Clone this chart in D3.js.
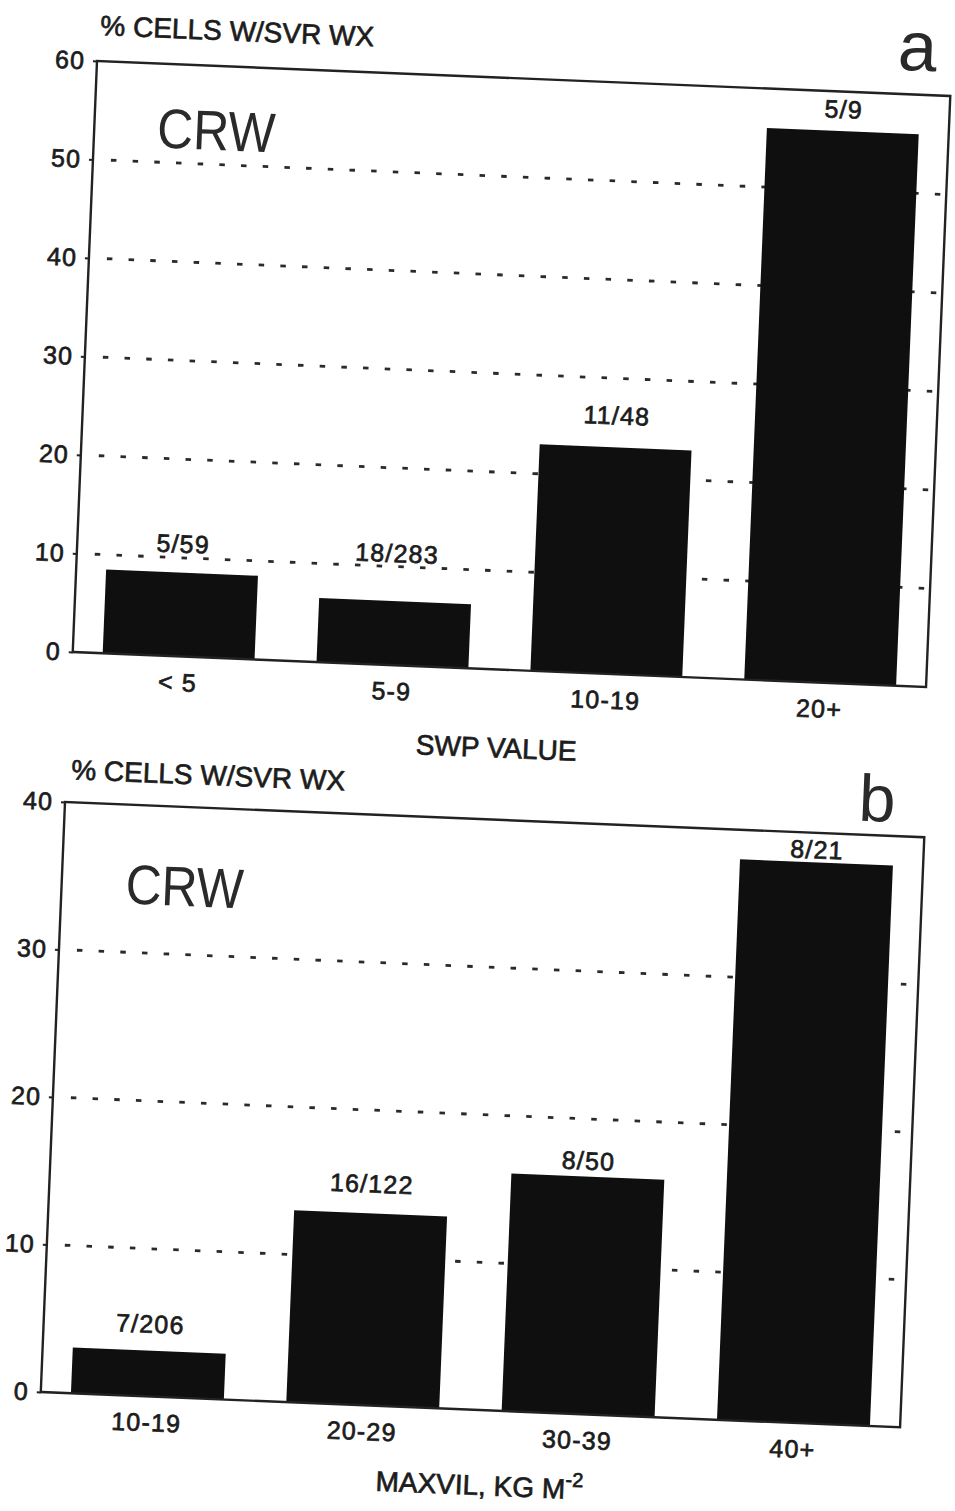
<!DOCTYPE html>
<html>
<head>
<meta charset="utf-8">
<script src="https://cdn.jsdelivr.net/npm/d3@7"></script>
<style>
  body { margin: 0; background: #fff; }
  svg text { font-family: "Liberation Sans", Arial, Helvetica, sans-serif; fill: #1c1c1c; }
  svg text.heavy { stroke: #1c1c1c; stroke-width: 0.7px; }
</style>
</head>
<body>
<div id="chart"></div>
<script>

// panel a : SWP value
var swpCats   = ["< 5", "5-9", "10-19", "20+"];
var swpPct    = [8.5, 6.5, 23.0, 56.0];
var swpCounts = ["5/59", "18/283", "11/48", "5/9"];
var swpTicks  = [0, 10, 20, 30, 40, 50, 60];

// panel b : MAXVIL
var vilCats   = ["10-19", "20-29", "30-39", "40+"];
var vilPct    = [3.1, 13.0, 16.1, 38.0];
var vilCounts = ["7/206", "16/122", "8/50", "8/21"];
var vilTicks  = [0, 10, 20, 30, 40];

var svg = d3.select("#chart")
    .append("svg")
    .attr("width", 955)
    .attr("height", 1511);

// the scanned page is tilted a bit, so each panel is rotated
var tilt = 2.35;

function drawPanel(p) {

    var g = svg.append("g")
        .attr("transform", "translate(" + p.ox + "," + p.oy + ") rotate(" + tilt + ")");

    var W = p.width, H = p.height;

    var x = d3.scaleBand()
        .domain(p.cats)
        .range([0, W])
        .paddingInner(0.29)
        .paddingOuter(0.14);

    var y = d3.scaleLinear()
        .domain([0, d3.max(p.ticks)])
        .range([H, 0]);

    // dotted grid lines
    g.selectAll(".grid")
        .data(p.ticks.filter(function(t) { return t > 0 && t < d3.max(p.ticks); }))
        .enter()
        .append("line")
        .attr("x1", 18)
        .attr("x2", W)
        .attr("y1", function(d) { return y(d); })
        .attr("y2", function(d) { return y(d); })
        .attr("stroke", "#2a2a2a")
        .attr("stroke-width", 2.8)
        .attr("stroke-dasharray", "5.5,16.2");

    // bars
    var rows = p.cats.map(function(c, i) { return {cat: c, pct: p.pct[i], count: p.counts[i], lift: p.lift[i]}; });

    g.selectAll(".bar")
        .data(rows)
        .enter()
        .append("rect")
        .attr("x", function(d) { return x(d.cat); })
        .attr("y", function(d) { return y(d.pct); })
        .attr("width", x.bandwidth())
        .attr("height", function(d) { return H - y(d.pct); })
        .attr("fill", "#0f0f0f");

    // count labels over the bars
    g.selectAll(".count")
        .data(rows)
        .enter()
        .append("text")
        .attr("class", "heavy")
        .attr("x", function(d) { return x(d.cat) + x.bandwidth() / 2; })
        .attr("y", function(d) { return y(d.pct) - d.lift; })
        .attr("text-anchor", "middle")
        .attr("font-size", 25)
        .attr("letter-spacing", 1.2)
        .text(function(d) { return d.count; });

    // frame
    g.append("rect")
        .attr("x", 0)
        .attr("y", 0)
        .attr("width", W)
        .attr("height", H)
        .attr("fill", "none")
        .attr("stroke", "#222")
        .attr("stroke-width", 2.4);

    // y axis
    var ya = g.append("g")
        .call(d3.axisLeft(y).tickValues(p.ticks).tickSize(4).tickPadding(8));
    ya.select(".domain").remove();
    ya.selectAll("line").attr("stroke", "#222").attr("stroke-width", 2);
    ya.selectAll("text")
        .attr("class", "heavy")
        .attr("font-size", 25)
        .attr("letter-spacing", 1)
        .style("fill", "#1c1c1c");

    // x axis labels
    var xa = g.append("g")
        .attr("transform", "translate(0," + H + ")")
        .call(d3.axisBottom(x).tickSize(0).tickPadding(17));
    xa.select(".domain").remove();
    xa.selectAll("text")
        .attr("class", "heavy")
        .attr("font-size", 25)
        .attr("letter-spacing", 1.2)
        .style("fill", "#1c1c1c");

    // y title
    g.append("text")
        .attr("class", "heavy")
        .attr("x", p.yTitle[0])
        .attr("y", p.yTitle[1])
        .attr("font-size", 28)
        .text("% CELLS W/SVR WX");

    // x title
    var xt = g.append("text")
        .attr("class", "heavy")
        .attr("x", W / 2 + p.xTitle[0])
        .attr("y", H + p.xTitle[1])
        .attr("text-anchor", "middle")
        .attr("font-size", 28)
        .text(p.xLabel);
    if (p.xSup) {
        xt.append("tspan")
            .attr("dy", -12)
            .attr("font-size", 20)
            .text(p.xSup);
    }

    // station name
    g.append("text")
        .attr("x", p.crw[0])
        .attr("y", p.crw[1])
        .attr("font-size", 56)
        .attr("textLength", 118)
        .attr("lengthAdjust", "spacingAndGlyphs")
        .style("fill", "#2a2a2a")
        .text("CRW");

    // panel letter
    g.append("text")
        .attr("x", p.letterPos[0])
        .attr("y", p.letterPos[1])
        .attr("font-size", p.letterSize)
        .style("fill", "#2a2a2a")
        .text(p.letter);
}

drawPanel({
    ox: 97, oy: 61, width: 854, height: 591.5,
    cats: swpCats, pct: swpPct, counts: swpCounts, ticks: swpTicks,
    lift: [20, 39, 23, 13],
    yTitle: [2, -26], xTitle: [0, 88], xLabel: "SWP VALUE",
    crw: [63, 84], letter: "a", letterPos: [800, -24], letterSize: 70
});

drawPanel({
    ox: 65, oy: 802, width: 860, height: 590.5,
    cats: vilCats, pct: vilPct, counts: vilCounts, ticks: vilTicks,
    lift: [18, 21, 7, 4],
    yTitle: [5, -23], xTitle: [12, 85], xLabel: "MAXVIL, KG M", xSup: "-2",
    crw: [64, 99], letter: "b", letterPos: [793, -14], letterSize: 66
});

</script>
</body>
</html>
